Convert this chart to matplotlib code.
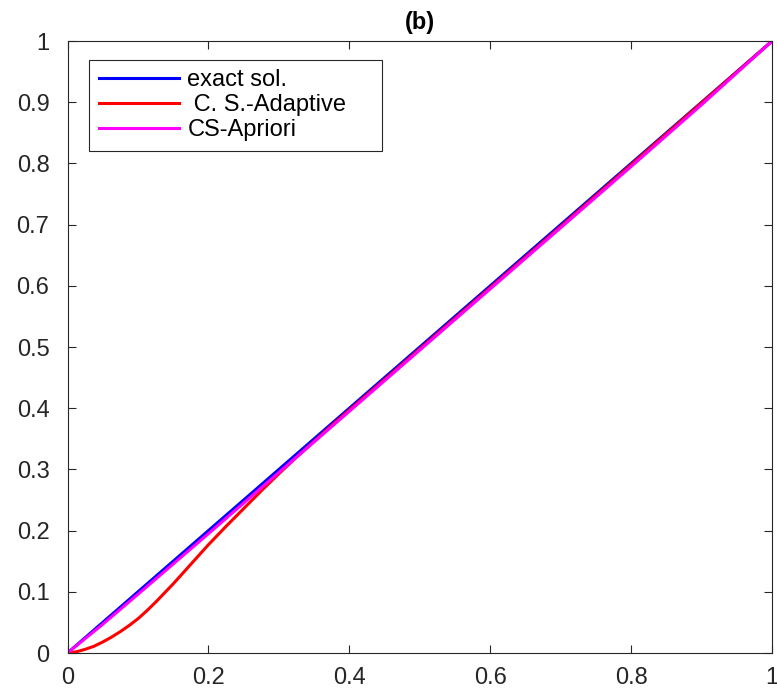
import matplotlib
matplotlib.use("Agg")
import matplotlib.pyplot as plt

plt.rcParams['font.family'] = ['Liberation Sans', 'DejaVu Sans']

# Data
x_exact = [0.0, 1.0]
y_exact = [0.0, 1.0]

x_adapt = [0.0, 0.0125, 0.025, 0.0375, 0.05, 0.0625, 0.075, 0.0875, 0.1, 0.1125, 0.125,
           0.1375, 0.15, 0.1625, 0.175, 0.1875, 0.2, 0.225, 0.25, 0.275, 0.3, 0.325, 0.35,
           0.375, 0.4, 0.5, 0.6, 0.7, 0.8, 0.9, 1.0]
y_adapt = [0.0, 0.002, 0.006, 0.011, 0.018, 0.026, 0.035, 0.045, 0.056, 0.069, 0.083,
           0.098, 0.113, 0.129, 0.145, 0.161, 0.177, 0.207, 0.236, 0.265, 0.293, 0.320,
           0.346, 0.372, 0.397, 0.497, 0.597, 0.697, 0.798, 0.899, 1.0]

x_apriori = [0.0, 0.05, 0.1, 0.2, 0.3, 0.4, 0.5, 0.6, 0.7, 0.8, 0.9, 1.0]
y_apriori = [0.0, 0.047, 0.096, 0.195, 0.295, 0.395, 0.495, 0.595, 0.695, 0.795, 0.896, 1.0]

labels = ['exact sol.', ' C. S.-Adaptive    ', 'CS-Apriori']
colors = ['#0000ff', '#ff0000', '#ff00ff']
xticks = [0, 0.2, 0.4, 0.6, 0.8, 1]
xticklabels = ['0', '0.2', '0.4', '0.6', '0.8', '1']
yticks = [0, 0.1, 0.2, 0.3, 0.4, 0.5, 0.6, 0.7, 0.8, 0.9, 1]
yticklabels = ['0', '0.1', '0.2', '0.3', '0.4', '0.5', '0.6', '0.7', '0.8', '0.9', '1']

fig = plt.figure(figsize=(7.77, 6.93), dpi=100)
ax = fig.add_axes([0.0869, 0.0577, 0.9068, 0.8831])

ax.plot(x_exact, y_exact, color=colors[0], lw=2.2, label=labels[0])
ax.plot(x_adapt, y_adapt, color=colors[1], lw=2.2, label=labels[1])
ax.plot(x_apriori, y_apriori, color=colors[2], lw=2.2, label=labels[2])

ax.set_xlim(0, 1)
ax.set_ylim(0, 1)
ax.set_xticks(xticks)
ax.set_xticklabels(xticklabels)
ax.set_yticks(yticks)
ax.set_yticklabels(yticklabels)

axcol = '#262626'
for s in ax.spines.values():
    s.set_color(axcol)
    s.set_linewidth(0.8)
ax.tick_params(direction='in', length=6, width=0.8, colors=axcol, labelcolor='#262626',
               labelsize=17, top=True, right=True)
ax.tick_params(axis='y', pad=13)
ax.tick_params(axis='x', pad=10)

ax.set_title('(b)', fontsize=17, fontweight='bold', pad=9)

leg = ax.legend(loc='upper left', bbox_to_anchor=(0.031, 0.969), fontsize=17,
                fancybox=False, framealpha=1, edgecolor=axcol, handlelength=3.4,
                handletextpad=0.35, borderpad=0.4, labelspacing=0.12, borderaxespad=0)
leg.get_frame().set_linewidth(0.8)

fig.savefig('out.png', dpi=100)
